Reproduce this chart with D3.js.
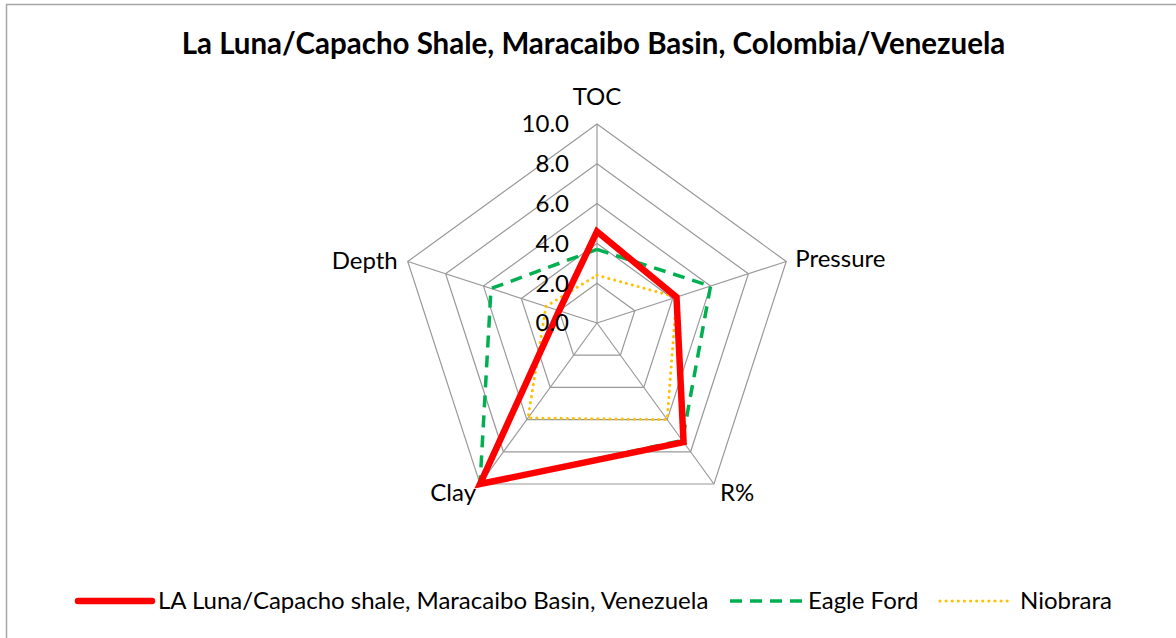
<!DOCTYPE html>
<html><head><meta charset="utf-8">
<script src="https://cdn.jsdelivr.net/npm/d3@7"></script>
<style>body{margin:0;background:#fff}svg{display:block}text{font-family:Lato,"Liberation Sans",sans-serif;fill:#000}</style>
</head><body><svg id="c" width="1176" height="638"></svg>
<script>
const axes = ["TOC","Pressure","R%","Clay","Depth"];
const ticks = [0,2,4,6,8,10];
const tickLabels = ["0.0","2.0","4.0","6.0","8.0","10.0"];
const seriesNames = ["LA Luna/Capacho shale, Maracaibo Basin, Venezuela","Eagle Ford","Niobrara"];
const laLuna = [4.6,4.2,7.4,10.0,2.0];
const eagleFord = [3.7,6.0,7.3,10.0,5.6];
const niobrara = [2.4,4.2,6.0,5.9,2.7];

const svg = d3.select("#c");
svg.append("rect").attr("x",6.5).attr("y",4.5).attr("width",1200).attr("height",700)
  .attr("fill","none").attr("stroke","#a6a6a6").attr("stroke-width",1.5);

const cx = 597, cy = 323;
const r = d3.scaleLinear().domain([0,10]).range([0,199]);
const ang = d3.scaleLinear().domain([0,axes.length]).range([0,2*Math.PI]);
const pt = (i,v)=>[cx + r(v)*Math.sin(ang(i)), cy - r(v)*Math.cos(ang(i))];

const g = svg.append("g");
ticks.slice(1).forEach(t=>{
  g.append("polygon").attr("points", axes.map((a,i)=>pt(i,t).join(",")).join(" "))
    .attr("fill","none").attr("stroke","#999").attr("stroke-width",1.2);
});
axes.forEach((a,i)=>{
  const [x,y]=pt(i,10);
  g.append("line").attr("x1",cx).attr("y1",cy).attr("x2",x).attr("y2",y).attr("stroke","#999").attr("stroke-width",1.2);
});

const line = d3.line().curve(d3.curveLinearClosed);
const styles = [
  {data:laLuna, color:"#ff0000", w:6.5, dash:null, cap:"butt"},
  {data:eagleFord, color:"#00b050", w:3.5, dash:"12,8", cap:"butt"},
  {data:niobrara, color:"#ffc000", w:3, dash:"0.1,6", cap:"round"}
];
[1,2,0].forEach(k=>{
  const s=styles[k];
  g.append("path").attr("d", line(s.data.map((v,i)=>pt(i,v))))
    .attr("fill","none").attr("stroke",s.color).attr("stroke-width",s.w)
    .attr("stroke-dasharray",s.dash).attr("stroke-linecap",s.cap).attr("stroke-linejoin","miter");
});

ticks.forEach((t,i)=>{
  g.append("text").attr("x",569).attr("y",cy - r(t)).attr("dy","0.35em")
    .attr("text-anchor","end").style("font-size","24px").text(tickLabels[i]);
});
const lab = [
  {dx:0,dy:-27,anchor:"middle"},
  {dx:9,dy:-3,anchor:"start"},
  {dx:6,dy:9,anchor:"start"},
  {dx:-4,dy:9,anchor:"end"},
  {dx:-10,dy:-1,anchor:"end"}
];
axes.forEach((a,i)=>{
  const [x,y]=pt(i,10);
  g.append("text").attr("x",x+lab[i].dx).attr("y",y+lab[i].dy).attr("dy","0.35em")
    .attr("text-anchor",lab[i].anchor).style("font-size","24px").text(a);
});

svg.append("text").attr("x",593.5).attr("y",54).attr("text-anchor","middle")
  .style("font-size","29.5px").style("font-weight","bold")
  .text("La Luna/Capacho Shale, Maracaibo Basin, Colombia/Venezuela");

const legY = 601;
const legItems = [
  {x0:78,x1:152,tx:158},
  {x0:730,x1:802,tx:808},
  {x0:940,x1:1010,tx:1020}
];
legItems.forEach((it,k)=>{
  const s=styles[k];
  svg.append("line").attr("x1",it.x0).attr("x2",it.x1).attr("y1",legY).attr("y2",legY)
    .attr("stroke",s.color).attr("stroke-width",s.w).attr("stroke-dasharray",s.dash)
    .attr("stroke-linecap",k===0?"round":s.cap);
  svg.append("text").attr("x",it.tx).attr("y",legY).attr("dy","0.35em")
    .style("font-size","24px").text(seriesNames[k]);
});
</script></body></html>
